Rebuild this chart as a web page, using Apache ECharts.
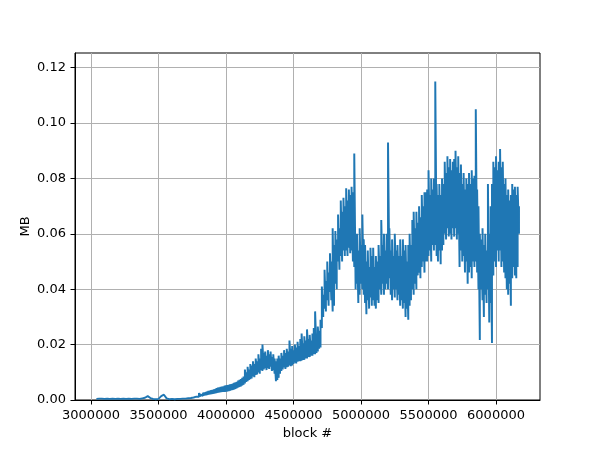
<!DOCTYPE html>
<html><head><meta charset="utf-8">
<script src="https://cdn.jsdelivr.net/npm/echarts@6/dist/echarts.min.js"></script>
<style>html,body{margin:0;padding:0;background:#fff}#c{width:600px;height:450px}</style>
</head><body><div id="c"></div>
<script>
// Early, nearly flat part: one value per block bin
const earlyBlocks = [
3040000,3060000,3080000,3100000,3120000,3140000,3160000,3180000,3200000,3220000,
3240000,3260000,3280000,3300000,3320000,3340000,3360000,3380000,3400000,3420000,
3440000,3460000,3480000,3500000,3520000,3540000,3560000,3580000,3600000,3620000,
3640000,3660000,3680000,3700000,3720000,3740000,3760000,3780000
];
const earlyMb = [
0.0004,0.0005,0.0005,0.0004,0.0005,0.0004,0.0005,0.0004,0.0005,0.0004,
0.0005,0.0004,0.0005,0.0004,0.0005,0.0005,0.0004,0.0006,0.0008,0.0014,
0.0007,0.0004,0.0003,0.0004,0.0014,0.0019,0.0006,0.0003,0.0004,0.0003,
0.0004,0.0004,0.0005,0.0005,0.0006,0.0007,0.0009,0.0012
];
// Noisy part: low and high value read in each block bin
const blocks = [
3790000,3800000,3810000,3820000,3830000,3840000,3850000,3860000,3870000,3880000,
3890000,3900000,3910000,3920000,3930000,3940000,3950000,3960000,3970000,3980000,
3990000,4000000,4010000,4020000,4030000,4040000,4050000,4060000,4070000,4080000,
4090000,4100000,4110000,4120000,4130000,4140000,4150000,4160000,4170000,4180000,
4190000,4200000,4210000,4220000,4230000,4240000,4250000,4260000,4270000,4280000,
4290000,4300000,4310000,4320000,4330000,4340000,4350000,4360000,4370000,4380000,
4390000,4400000,4410000,4420000,4430000,4440000,4450000,4460000,4470000,4480000,
4490000,4500000,4510000,4520000,4530000,4540000,4550000,4560000,4570000,4580000,
4590000,4600000,4610000,4620000,4630000,4640000,4650000,4660000,4670000,4680000,
4690000,4700000,4710000,4720000,4730000,4740000,4750000,4760000,4770000,4780000,
4790000,4800000,4810000,4820000,4830000,4840000,4850000,4860000,4870000,4880000,
4890000,4900000,4910000,4920000,4930000,4940000,4950000,4960000,4970000,4980000,
4990000,5000000,5010000,5020000,5030000,5040000,5050000,5060000,5070000,5080000,
5090000,5100000,5110000,5120000,5130000,5140000,5150000,5160000,5170000,5180000,
5190000,5200000,5210000,5220000,5230000,5240000,5250000,5260000,5270000,5280000,
5290000,5300000,5310000,5320000,5330000,5340000,5350000,5360000,5370000,5380000,
5390000,5400000,5410000,5420000,5430000,5440000,5450000,5460000,5470000,5480000,
5490000,5500000,5510000,5520000,5530000,5540000,5550000,5560000,5570000,5580000,
5590000,5600000,5610000,5620000,5630000,5640000,5650000,5660000,5670000,5680000,
5690000,5700000,5710000,5720000,5730000,5740000,5750000,5760000,5770000,5780000,
5790000,5800000,5810000,5820000,5830000,5840000,5850000,5860000,5870000,5880000,
5890000,5900000,5910000,5920000,5930000,5940000,5950000,5960000,5970000,5980000,
5990000,6000000,6010000,6020000,6030000,6040000,6050000,6060000,6070000,6080000,
6090000,6100000,6110000,6120000,6130000,6140000,6150000,6160000,6170000
];
const lo = [
0.0012,0.0012,0.0012,0.0014,0.0015,0.0016,0.0017,0.0018,0.0019,0.0020,
0.0021,0.0022,0.0023,0.0024,0.0025,0.0026,0.0027,0.0028,0.0029,0.0030,
0.0030,0.0030,0.0031,0.0032,0.0033,0.0035,0.0036,0.0038,0.0040,0.0042,
0.0045,0.0047,0.0049,0.0052,0.0055,0.0060,0.0065,0.0068,0.0072,0.0075,
0.0078,0.0085,0.0082,0.0090,0.0092,0.0100,0.0095,0.0108,0.0105,0.0110,
0.0115,0.0108,0.0115,0.0112,0.0120,0.0105,0.0108,0.0095,0.0068,0.0072,
0.0080,0.0095,0.0105,0.0110,0.0118,0.0112,0.0118,0.0120,0.0125,0.0122,
0.0125,0.0130,0.0135,0.0132,0.0138,0.0140,0.0140,0.0142,0.0145,0.0145,
0.0150,0.0150,0.0155,0.0155,0.0160,0.0160,0.0165,0.0165,0.0170,0.0175,
0.0185,0.0190,0.0260,0.0300,0.0330,0.0320,0.0360,0.0340,0.0390,0.0360,
0.0320,0.0340,0.0420,0.0400,0.0500,0.0470,0.0520,0.0500,0.0540,0.0520,
0.0540,0.0520,0.0550,0.0530,0.0540,0.0500,0.0480,0.0400,0.0420,0.0350,
0.0380,0.0420,0.0400,0.0380,0.0350,0.0310,0.0360,0.0330,0.0370,0.0340,
0.0360,0.0340,0.0330,0.0360,0.0350,0.0400,0.0380,0.0420,0.0380,0.0400,
0.0420,0.0400,0.0440,0.0380,0.0360,0.0400,0.0370,0.0400,0.0360,0.0380,
0.0340,0.0360,0.0330,0.0350,0.0300,0.0330,0.0290,0.0340,0.0360,0.0400,
0.0380,0.0420,0.0400,0.0450,0.0460,0.0440,0.0480,0.0500,0.0460,0.0500,
0.0500,0.0520,0.0540,0.0500,0.0560,0.0540,0.0560,0.0520,0.0500,0.0540,
0.0490,0.0540,0.0560,0.0600,0.0580,0.0620,0.0590,0.0600,0.0580,0.0620,
0.0590,0.0620,0.0580,0.0600,0.0480,0.0540,0.0500,0.0520,0.0460,0.0500,
0.0420,0.0460,0.0480,0.0440,0.0500,0.0480,0.0500,0.0460,0.0400,0.0217,
0.0400,0.0360,0.0300,0.0380,0.0350,0.0400,0.0280,0.0350,0.0206,0.0450,
0.0500,0.0480,0.0540,0.0500,0.0540,0.0480,0.0500,0.0460,0.0440,0.0400,
0.0380,0.0420,0.0340,0.0440,0.0480,0.0450,0.0440,0.0480,0.0600
];
const hi = [
0.0018,0.0025,0.0020,0.0022,0.0026,0.0027,0.0029,0.0031,0.0033,0.0034,
0.0036,0.0037,0.0039,0.0040,0.0043,0.0045,0.0046,0.0048,0.0049,0.0050,
0.0052,0.0053,0.0054,0.0055,0.0057,0.0058,0.0060,0.0062,0.0064,0.0066,
0.0070,0.0073,0.0076,0.0080,0.0085,0.0110,0.0100,0.0120,0.0110,0.0130,
0.0125,0.0140,0.0130,0.0150,0.0140,0.0165,0.0150,0.0185,0.0200,0.0170,
0.0175,0.0160,0.0180,0.0165,0.0175,0.0155,0.0165,0.0150,0.0140,0.0150,
0.0160,0.0150,0.0170,0.0160,0.0180,0.0170,0.0185,0.0175,0.0215,0.0185,
0.0195,0.0180,0.0200,0.0190,0.0210,0.0195,0.0220,0.0240,0.0205,0.0230,
0.0215,0.0255,0.0220,0.0235,0.0215,0.0240,0.0260,0.0320,0.0230,0.0265,
0.0250,0.0290,0.0410,0.0380,0.0470,0.0430,0.0500,0.0460,0.0530,0.0500,
0.0620,0.0560,0.0610,0.0580,0.0670,0.0620,0.0720,0.0680,0.0730,0.0700,
0.0765,0.0720,0.0760,0.0740,0.0770,0.0750,0.0890,0.0600,0.0600,0.0540,
0.0620,0.0560,0.0670,0.0580,0.0560,0.0500,0.0540,0.0480,0.0550,0.0520,
0.0550,0.0480,0.0520,0.0500,0.0560,0.0520,0.0650,0.0560,0.0600,0.0540,
0.0600,0.0930,0.0620,0.0540,0.0580,0.0520,0.0600,0.0540,0.0560,0.0520,
0.0580,0.0520,0.0580,0.0540,0.0560,0.0500,0.0560,0.0600,0.0560,0.0650,
0.0680,0.0620,0.0680,0.0640,0.0700,0.0660,0.0740,0.0700,0.0750,0.0750,
0.0760,0.0830,0.0740,0.0800,0.0760,0.0800,0.1150,0.0780,0.0740,0.0780,
0.0740,0.0800,0.0780,0.0860,0.0820,0.0880,0.0840,0.0870,0.0830,0.0860,
0.0870,0.0900,0.0840,0.0880,0.0820,0.0850,0.0780,0.0820,0.0760,0.0800,
0.0780,0.0820,0.0780,0.0830,0.0800,0.0810,0.1050,0.0760,0.0700,0.0600,
0.0580,0.0620,0.0560,0.0600,0.0540,0.0780,0.0600,0.0700,0.0780,0.0860,
0.0840,0.0880,0.0830,0.0860,0.0906,0.0840,0.0860,0.0780,0.0800,0.0740,
0.0760,0.0720,0.0740,0.0780,0.0760,0.0770,0.0740,0.0770,0.0700
];
const xTicks = [3000000,3500000,4000000,4500000,5000000,5500000,6000000];
const yTicks = [0,0.02,0.04,0.06,0.08,0.10,0.12];
const xRange = [2881500, 6325700];
const yRange = [0, 0.1253];

const data = earlyBlocks.map((b, i) => [b, earlyMb[i]]);
blocks.forEach((b, i) => { data.push([b, lo[i]], [b, hi[i]]); });
const font = 'DejaVu Sans';
const chart = echarts.init(document.getElementById('c'), null, {renderer: 'canvas'});
chart.setOption({
  animation: false,
  backgroundColor: '#fff',
  grid: {left: 75, right: 60, top: 53, bottom: 50, show: true, borderColor: '#000', borderWidth: 1, backgroundColor: 'transparent'},
  xAxis: {
    type: 'value', min: xRange[0], max: xRange[1],
    name: 'block #', nameLocation: 'middle', nameGap: 25,
    nameTextStyle: {fontFamily: font, fontSize: 13, color: '#000'},
    axisLine: {show: true, lineStyle: {color: '#000', width: 1}},
    axisTick: {show: true, length: 4.5, customValues: xTicks, lineStyle: {color: '#000', width: 1}},
    axisLabel: {customValues: xTicks, margin: 9, fontFamily: font, fontSize: 13, color: '#000', formatter: v => String(v)},
    splitLine: {show: true, lineStyle: {color: '#b0b0b0', width: 1}}
  },
  yAxis: {
    type: 'value', min: yRange[0], max: yRange[1],
    name: 'MB', nameLocation: 'middle', nameGap: 43, nameRotate: 90, nameMoveOverlap: false,
    nameTextStyle: {fontFamily: font, fontSize: 13, color: '#000'},
    axisLine: {show: true, lineStyle: {color: '#000', width: 1}},
    axisTick: {show: true, length: 4.5, customValues: yTicks, lineStyle: {color: '#000', width: 1}},
    axisLabel: {customValues: yTicks, margin: 9, fontFamily: font, fontSize: 13, color: '#000', formatter: v => v.toFixed(2)},
    splitLine: {show: true, lineStyle: {color: '#b0b0b0', width: 1}}
  },
  series: [{
    type: 'line', data: data, showSymbol: false, symbol: 'none', sampling: null,
    lineStyle: {color: '#1f77b4', width: 1.95}, itemStyle: {color: '#1f77b4'},
    clip: true
  }]
});
</script>
</body></html>
